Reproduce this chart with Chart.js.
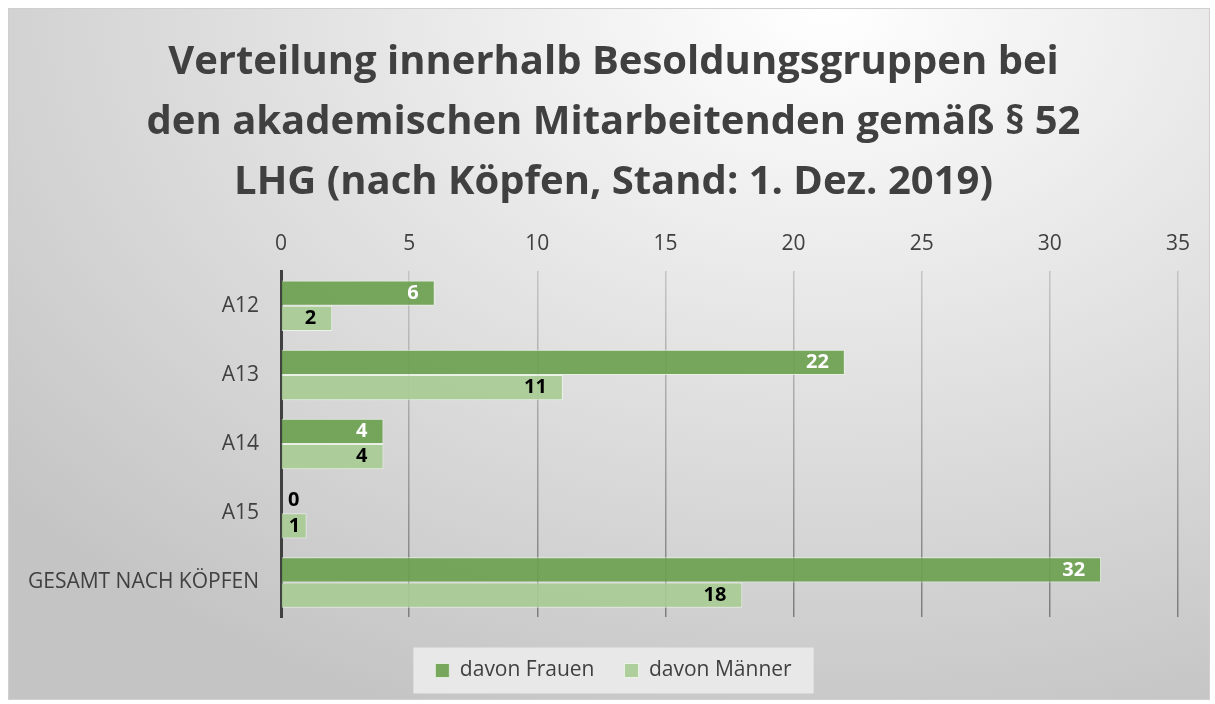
<!DOCTYPE html>
<html>
<head>
<meta charset="utf-8">
<script src="https://cdn.jsdelivr.net/npm/chart.js@4"></script>
<style>
  html, body { margin: 0; padding: 0; background: #fff; }
  #wrap {
    position: absolute; left: 8px; top: 8px; width: 1200px; height: 690px;
    border: 1px solid #cfcfcf;
    background: radial-gradient(ellipse 90% 110% at 68% 0%, #ffffff 0%, #e4e4e4 45%, #c4c4c4 100%);
  }
</style>
</head>
<body>
<div id="wrap"><canvas id="chart" width="1200" height="690"></canvas></div>
<script>
// data
const groups = ['A12', 'A13', 'A14', 'A15', 'GESAMT NACH KÖPFEN'];
const frauen = [6, 22, 4, 0, 32];
const maenner = [2, 11, 4, 1, 18];
const seriesNames = ['davon Frauen', 'davon Männer'];
const titleLines = [
  'Verteilung innerhalb Besoldungsgruppen bei',
  'den akademischen Mitarbeitenden gemäß § 52',
  'LHG (nach Köpfen, Stand: 1. Dez. 2019)'
];

const textColor = '#404040';

// draws the value labels at the end of each bar (inside end)
const barLabels = {
  id: 'barLabels',
  afterDatasetsDraw(chart) {
    const c = chart.ctx;
    c.save();
    c.font = 'bold 20px "Open Sans"';
    c.textBaseline = 'middle';
    c.textAlign = 'right';
    chart.data.datasets.forEach((ds, i) => {
      const meta = chart.getDatasetMeta(i);
      meta.data.forEach((bar, j) => {
        const v = ds.data[j];
        const txt = String(v);
        const w = c.measureText(txt).width;
        const x = Math.max(bar.x - 16, bar.base + w + 7);
        c.fillStyle = (i === 0 && v > 0) ? '#ffffff' : '#000000';
        c.fillText(txt, x, bar.y);
      });
    });
    c.restore();
  }
};

// light box behind the legend
const legendBox = {
  id: 'legendBox',
  beforeDraw(chart) {
    const l = chart.legend;
    if (!l || !l.legendItems) return;
    const hits = l.legendHitBoxes;
    if (!hits || !hits.length) return;
    const left = hits[0].left - 22;
    const last = hits[hits.length - 1];
    const right = last.left + last.width + 22;
    const cy = hits[0].top + hits[0].height / 2;
    const c = chart.ctx;
    c.save();
    c.fillStyle = 'rgba(235,235,235,0.9)';
    c.fillRect(left, cy - 23, right - left, 46);
    c.restore();
  }
};

function gridColor(ctx) {
  const chart = ctx.chart;
  const a = chart.chartArea;
  if (!a) return '#aaaaaa';
  const g = chart.ctx.createLinearGradient(0, a.top, 0, a.bottom);
  g.addColorStop(0, '#c4c4c4');
  g.addColorStop(1, '#7e7e7e');
  return g;
}

new Chart(document.getElementById('chart'), {
  type: 'bar',
  data: {
    labels: groups,
    datasets: [
      {
        label: seriesNames[0],
        data: frauen,
        backgroundColor: 'rgba(108,160,80,0.92)',
        borderColor: 'rgba(235,245,230,0.8)',
        borderWidth: 1,
        categoryPercentage: 0.73,
        barPercentage: 1.0
      },
      {
        label: seriesNames[1],
        data: maenner,
        backgroundColor: 'rgba(168,204,148,0.92)',
        borderColor: 'rgba(240,248,236,0.8)',
        borderWidth: 1,
        categoryPercentage: 0.73,
        barPercentage: 1.0
      }
    ]
  },
  options: {
    indexAxis: 'y',
    responsive: false,
    animation: false,
    layout: { padding: { left: 40, right: 31, top: 10, bottom: 8 } },
    scales: {
      x: {
        position: 'top',
        min: 0,
        max: 35,
        ticks: { stepSize: 5, color: textColor, font: { family: 'Open Sans', size: 21 }, padding: 15 },
        grid: { color: gridColor, lineWidth: 1.5, drawTicks: false },
        border: { display: false }
      },
      gap: {
        type: 'linear',
        axis: 'x',
        position: 'bottom',
        display: true,
        ticks: { display: false },
        grid: { display: false, drawTicks: false },
        border: { display: false },
        afterFit(scale) { scale.height = 13; }
      },
      y: {
        ticks: { color: textColor, font: { family: 'Open Sans', size: 21 }, padding: 14 },
        grid: { display: false },
        border: { color: '#404040', width: 3 },
        afterFit(scale) {
          scale.width = 232;
          // long label reaches into the left padding, so do not clip it
          scale._computeLabelArea = () => undefined;
        }
      }
    },
    plugins: {
      title: {
        display: true,
        text: titleLines,
        color: textColor,
        font: { family: 'Open Sans', size: 40, weight: 'bold', lineHeight: 1.5 },
        padding: { top: 14, bottom: 3 }
      },
      legend: {
        position: 'bottom',
        labels: {
          color: textColor,
          font: { family: 'Open Sans', size: 21 },
          boxWidth: 14,
          boxHeight: 14,
          padding: 30
        }
      },
      tooltip: { enabled: false }
    }
  },
  plugins: [legendBox, barLabels]
});
</script>
</body>
</html>
